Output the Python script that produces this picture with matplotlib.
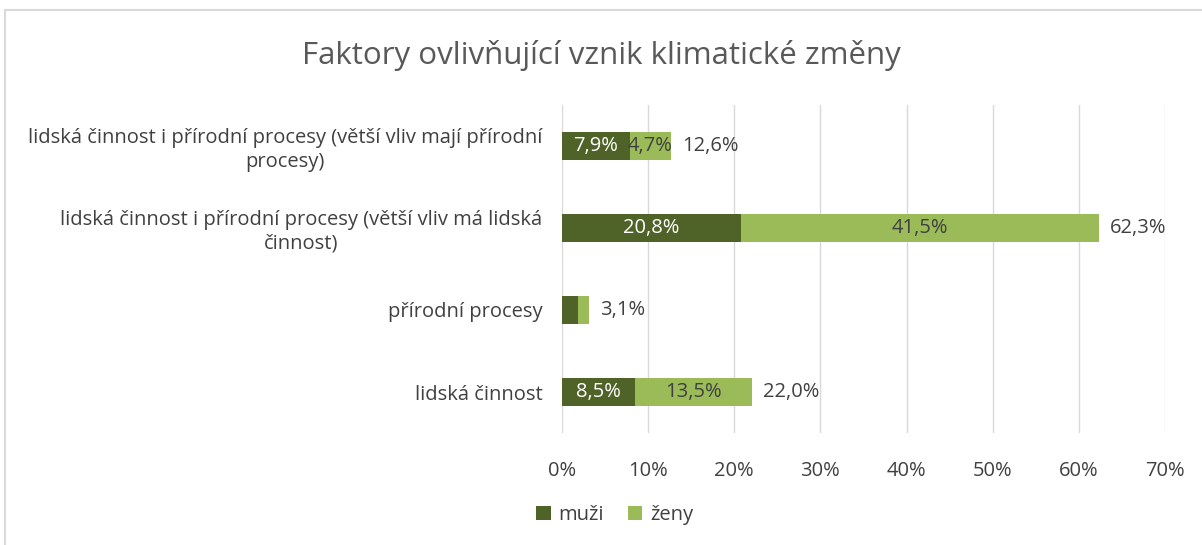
import matplotlib.pyplot as plt
import numpy as np
from matplotlib.patches import Rectangle

plt.rcParams['font.family'] = ['Open Sans', 'DejaVu Sans']

categories = [
    "lidská činnost",
    "přírodní procesy",
    "lidská činnost i přírodní procesy (větší vliv má lidská\nčinnost)",
    "lidská činnost i přírodní procesy (větší vliv mají přírodní\nprocesy)",
]
muzi = [8.5, 1.8, 20.8, 7.9]
zeny = [13.5, 1.3, 41.5, 4.7]
totals = [22.0, 3.1, 62.3, 12.6]
xticks = [0, 10, 20, 30, 40, 50, 60, 70]

dark = "#4f6228"
light = "#9bbb59"
text_gray = "#404040"
fs = 14.5


def fmt(v):
    return f"{v:.1f}%".replace(".", ",")


fig = plt.figure(figsize=(12.02, 5.45), dpi=100)
# light frame around the chart area
fig.patches.append(Rectangle((5 / 1202, -0.1), 1.2, 1 - 10 / 545 + 0.1,
                             transform=fig.transFigure, fill=False,
                             edgecolor="#d9d9d9", linewidth=1.5))

ax = fig.add_axes([562 / 1202, 1 - 433 / 545, 603 / 1202, 328 / 545])
y = np.arange(len(categories))
h = 0.35
ax.barh(y, muzi, height=h, color=dark, label="muži", zorder=3)
ax.barh(y, zeny, height=h, left=muzi, color=light, label="ženy", zorder=3)

for i in range(len(categories)):
    if muzi[i] > 3:
        ax.text(muzi[i] / 2, y[i], fmt(muzi[i]), ha="center", va="center",
                color="white", fontsize=fs, zorder=4)
    if zeny[i] > 3:
        ax.text(muzi[i] + zeny[i] / 2, y[i], fmt(zeny[i]), ha="center",
                va="center", color=text_gray, fontsize=fs, zorder=4)
    ax.text(totals[i] + 1.3, y[i], fmt(totals[i]), ha="left", va="center",
            color=text_gray, fontsize=fs, zorder=4)

ax.set_xlim(0, 70)
ax.set_ylim(-0.5, len(categories) - 0.5)
ax.set_xticks(xticks)
ax.set_xticklabels([f"{t}%" for t in xticks], fontsize=fs, color=text_gray)
ax.set_yticks(y)
ax.set_yticklabels(categories, fontsize=fs, color=text_gray,
                   multialignment="center")
ax.tick_params(length=0, pad=14)
ax.tick_params(axis="x", pad=20)
ax.grid(axis="x", color="#d9d9d9", linewidth=1, zorder=0)
for s in ax.spines.values():
    s.set_visible(False)

fig.text(0.5, 1 - 55 / 545, "Faktory ovlivňující vznik klimatické změny",
         ha="center", va="center", fontsize=22.5, color="#595959")

ax.legend(loc="center", bbox_to_anchor=(615 / 1202, 1 - 515 / 545),
          bbox_transform=fig.transFigure, ncol=2, frameon=False,
          fontsize=fs, handlelength=0.7, handleheight=0.7,
          columnspacing=1.2, handletextpad=0.4, labelcolor=text_gray)

fig.savefig("out.png", dpi=100)
